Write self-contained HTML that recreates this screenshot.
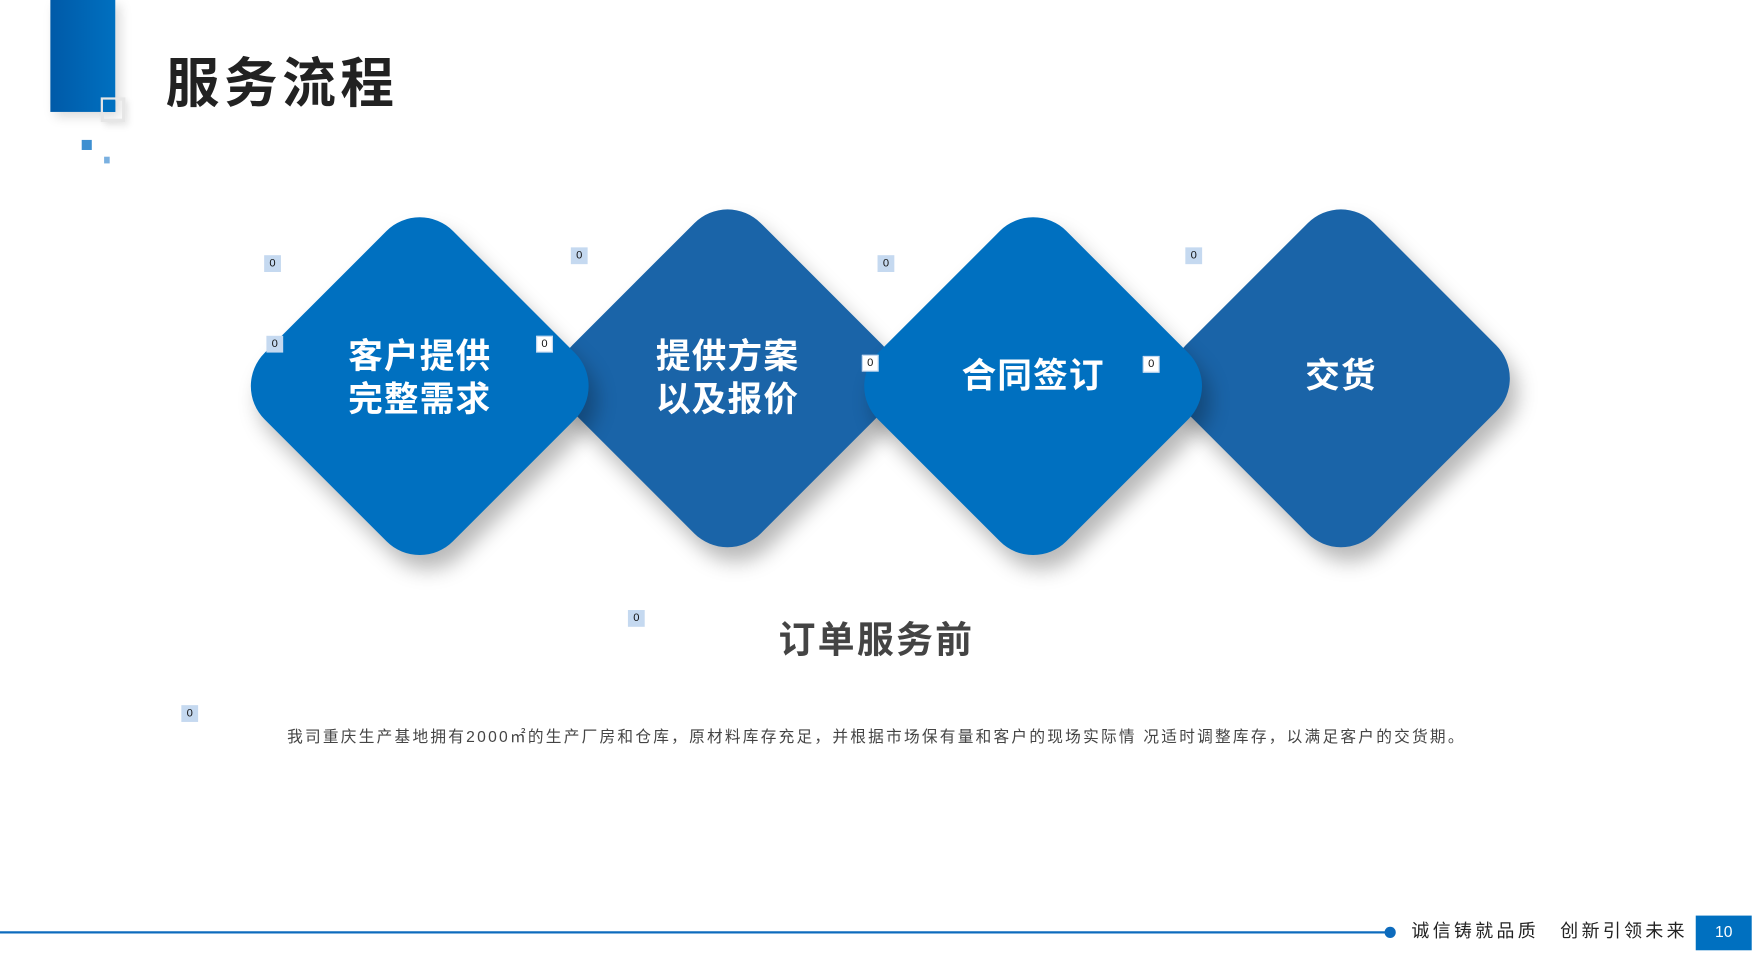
<!DOCTYPE html>
<html><head><meta charset="utf-8"><style>
html,body{margin:0;padding:0;background:#fff;overflow:hidden}
body{width:1755px;height:958px;position:relative}
#w{position:absolute;left:0;top:0;width:1568px;height:856px;transform:scale(1.1193);transform-origin:0 0;font-family:"Liberation Sans","Noto Sans CJK SC",sans-serif}
.a{position:absolute}
.d{position:absolute;width:238px;height:238px;border-radius:42px;transform:rotate(45deg);box-shadow:14px 4px 18px rgba(0,0,0,.28)}
.t{position:absolute;color:#fff;font-weight:bold;font-size:31px;line-height:38px;text-align:center;width:240px;letter-spacing:1px}
.z{position:absolute;width:15px;height:15px;background:#c5d9f0;font-size:10px;line-height:15px;text-align:center;color:#111}
.zw{background:#fff;border:1px solid #c5d9f0;width:13px;height:13px;line-height:13px}
</style></head><body><div id="w">
<div class="a" style="left:45px;top:0;width:58px;height:100px;background:linear-gradient(90deg,#005aa8,#0070c0);box-shadow:4px 4px 10px rgba(0,0,0,.15)"></div>
<div class="a" style="left:90px;top:87px;width:16px;height:16px;border:3px solid #e6e6e6;box-shadow:3px 3px 6px rgba(0,0,0,.1)"></div>
<div class="a" style="left:92px;top:89px;width:11px;height:11px;background:#0070c0"></div>
<div class="a" style="left:73px;top:125px;width:9px;height:9px;background:#3d8fd1"></div>
<div class="a" style="left:93px;top:140px;width:5px;height:6px;background:#7ab0e0"></div>
<div class="a" style="left:148px;top:46px;font-size:48px;font-weight:bold;color:#222;letter-spacing:4px;line-height:60px">服务流程</div>

<div class="d" style="left:531px;top:219px;background:#1a64a8"></div>
<div class="d" style="left:1079px;top:219px;background:#1a64a8"></div>
<div class="d" style="left:256px;top:226px;background:#0070c0"></div>
<div class="d" style="left:804px;top:226px;background:#0070c0"></div>

<div class="t" style="left:255px;top:300px">客户提供<br>完整需求</div>
<div class="t" style="left:530px;top:300px">提供方案<br>以及报价</div>
<div class="t" style="left:803px;top:317px">合同签订</div>
<div class="t" style="left:1078px;top:317px">交货</div>

<div class="z" style="left:236px;top:228px">0</div>
<div class="z" style="left:510px;top:221px">0</div>
<div class="z" style="left:784px;top:228px">0</div>
<div class="z" style="left:1059px;top:221px">0</div>
<div class="z" style="left:238px;top:300px">0</div>
<div class="z zw" style="left:479px;top:300px">0</div>
<div class="z zw" style="left:770px;top:317px">0</div>
<div class="z zw" style="left:1021px;top:318px">0</div>
<div class="z" style="left:561px;top:545px">0</div>
<div class="z" style="left:162px;top:630px">0</div>

<div class="a" style="left:583px;top:550px;width:400px;text-align:center;font-size:33px;font-weight:bold;color:#444;letter-spacing:2px;line-height:44px">订单服务前</div>
<div class="a" style="left:133px;top:648px;width:1300px;text-align:center;font-size:14px;color:#444;line-height:20px;letter-spacing:2px;white-space:nowrap">我司重庆生产基地拥有2000㎡的生产厂房和仓库，原材料库存充足，并根据市场保有量和客户的现场实际情 况适时调整库存，以满足客户的交货期。</div>

<div class="a" style="left:0;top:832px;width:1240px;height:2px;background:#0d6bbd"></div>
<div class="a" style="left:1237px;top:828px;width:10px;height:10px;border-radius:50%;background:#0d6bbd"></div>
<div class="a" style="left:1261px;top:823px;font-size:16px;color:#222;letter-spacing:3px;line-height:20px;white-space:nowrap">诚信铸就品质　创新引领未来</div>
<div class="a" style="left:1515px;top:818px;width:50px;height:31px;background:#0070c0;color:#fff;font-size:14px;text-align:center;line-height:28px">10</div>
</div></body></html>
